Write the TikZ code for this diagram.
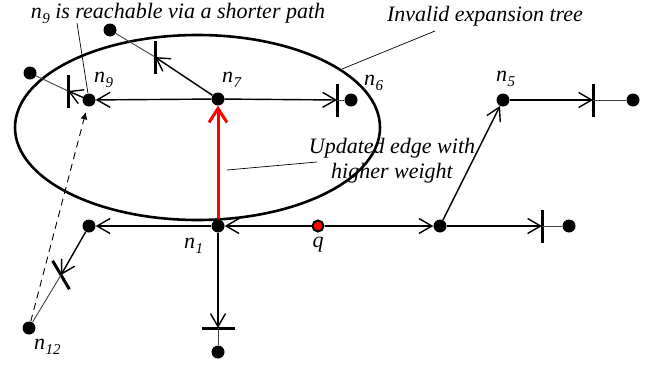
\documentclass[tikz,border=0pt]{standalone}
\usepackage{fontspec}
\setmainfont{Liberation Serif}
\usetikzlibrary{arrows.meta}
\newcommand\subidx[1]{\kern0.5pt\raisebox{-5.5pt}{\fontsize{15}{15}\selectfont #1}}
\begin{document}
\begin{tikzpicture}[x=1pt,y=-1pt,
 dot/.style={circle,fill=black,inner sep=0pt,minimum size=13pt},
 qdot/.style={circle,fill=red,draw=black,line width=2pt,inner sep=0pt,minimum size=11pt},
 vbar/.style={rectangle,fill=black,inner sep=0pt,minimum width=3pt,minimum height=33pt},
 edge/.style={line width=1.4pt,-{Straight Barb[length=13pt,width=15pt,line width=1.4pt]}},
 tailline/.style={line width=0.9pt,black!75},
 lead/.style={line width=0.7pt},
 lbl/.style={font=\fontsize{22}{25}\selectfont\itshape,inner sep=0pt},
 ]
\useasboundingbox (0,0) rectangle (658,364);
% expansion tree ellipse
\draw[line width=2.6pt] (197.5,127.5) ellipse [x radius=182.5, y radius=92.5];
% nodes
\node[dot] (n7) at (218,99) {};
\node[dot] (n9) at (89,100) {};
\node[dot] (n6) at (351,100) {};
\node[dot] (d7) at (110,30) {};
\node[dot] (d9) at (30,73) {};
\node[dot] (n5) at (503,100) {};
\node[dot] (d5) at (633,100) {};
\node[dot] (n1) at (218,226) {};
\node[qdot] (q) at (318,226) {};
\node[dot] (r) at (440,226) {};
\node[dot] (dr) at (569,226) {};
\node[dot] (l) at (89,226) {};
\node[dot] (n12) at (29,328) {};
\node[dot] (d1) at (218,352) {};
% bars
\node[vbar] (b6) at (337,100) {};
\node[vbar] (b7) at (155,57) {};
\node[vbar] (b9) at (68,91) {};
\node[vbar] (b5) at (593,100) {};
\node[vbar] (br) at (542,226) {};
\node[vbar,rotate=90] (b1) at (218,328) {};
\node[vbar,rotate=30.5] (bl) at (61,275) {};
% edges
\draw[edge] (n7) -- (n9);
\draw[edge] (n7) -- (b6.center);
\draw[tailline] (b6.center) -- (n6);
\draw[edge] (n7) -- (b7.center);
\draw[tailline] (b7.center) -- (d7);
\draw[edge] (n9) -- (b9.center);
\draw[tailline] (b9.center) -- (d9);
\draw[edge] (q) -- (n1);
\draw[edge] (q) -- (r);
\draw[edge] (n1) -- (l);
\draw[edge] (l) -- (bl.center);
\draw[tailline] (bl.center) -- (n12);
\draw[edge] (n1) -- (b1.center);
\draw[tailline] (b1.center) -- (d1);
\draw[edge] (r) -- (br.center);
\draw[tailline] (br.center) -- (dr);
\draw[edge] (r) -- (n5);
\draw[edge] (n5) -- (b5.center);
\draw[tailline] (b5.center) -- (d5);
\draw[red,line width=3pt,-{Straight Barb[length=14pt,width=18pt,line width=3pt]}] (n1) -- (n7);
\draw[line width=0.9pt,dash pattern=on 7pt off 5pt,shorten >=6pt,-{Latex[length=7pt,width=7pt]}] (n12) -- (n9);
% labels
\node[lbl,anchor=base west] at (94,82) {n\subidx{9}};
\node[lbl,anchor=base west] at (222,82) {n\subidx{7}};
\node[lbl,anchor=base west] at (364,85) {n\subidx{6}};
\node[lbl,anchor=base west] at (496,81) {n\subidx{5}};
\node[lbl,anchor=base west] at (184,248) {n\subidx{1}};
\node[lbl,anchor=base] at (318,247) {q};
\node[lbl,anchor=base west] at (34,349) {n\subidx{12}};
% annotations
\node[lbl,anchor=base] (t1) at (178,18) {n\subidx{9} is reachable via a shorter path};
\coordinate (t1e) at (77,23);
\draw[lead] (t1e) -- (n9);
\node[lbl,anchor=base] (t2) at (485,21) {Invalid expansion tree};
\coordinate (t2s) at (435,31);
\coordinate (t2e) at (342,69);
\draw[lead] (t2s) -- (t2e);
\node[lbl,anchor=base] (t3) at (392,153) {Updated edge with};
\node[lbl,anchor=base] (t4) at (392,178) {higher weight};
\coordinate (t3s) at (317,162);
\coordinate (t3e) at (227,170);
\draw[lead] (t3s) -- (t3e);
\end{tikzpicture}
\end{document}
